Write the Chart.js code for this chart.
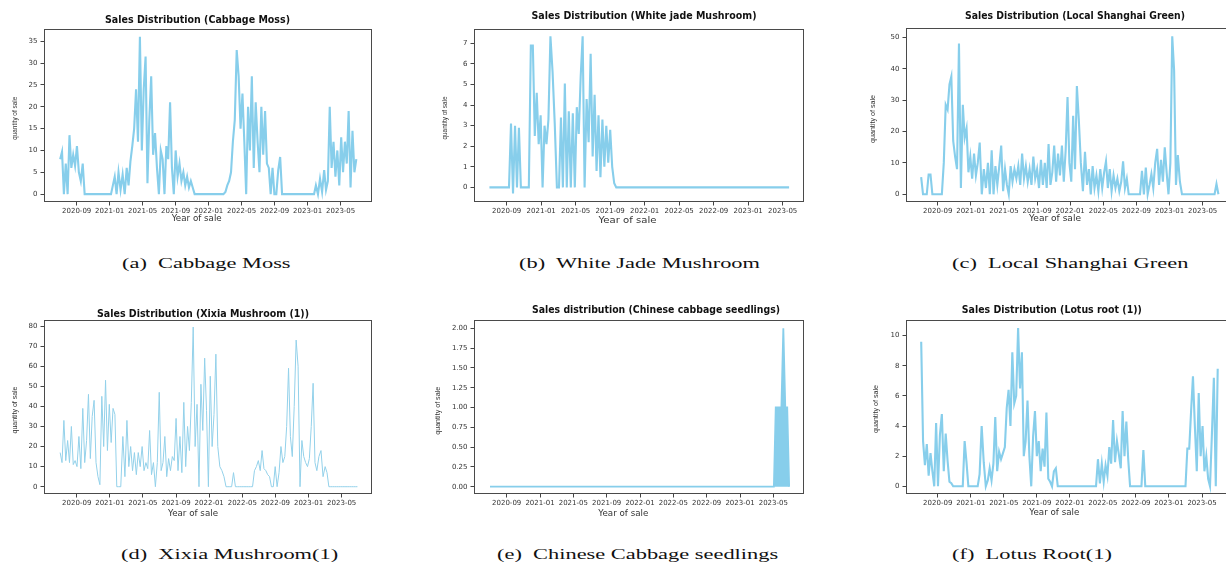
<!DOCTYPE html>
<html>
<head>
<meta charset="utf-8">
<script src="https://cdn.jsdelivr.net/npm/chart.js@4.4.1/dist/chart.umd.min.js"></script>
<style>
  html, body { margin:0; padding:0; background:#fff; }
  body { width:1226px; height:562px; overflow:hidden; position:relative; }
  .cap { position:absolute; font-family:"Liberation Serif","Times New Roman",serif; font-size:14px; line-height:14px;
         white-space:pre; color:#111; transform:scaleX(1.6); transform-origin:left top; }
</style>
</head>
<body>
<script>
// ---------------- DATA ----------------
// weekly samples starting 2020-07-01
const START_DATE = [2020, 6, 1];
const STEP_DAYS = 7;

const xTickValues = [8, 12, 16, 20, 24, 28, 32, 36, 40];   // months since 2020-01
const xTickLabels = ['2020-09','2021-01','2021-05','2021-09','2022-01','2022-05','2022-09','2023-01','2023-05'];

const titles = [
  'Sales Distribution (Cabbage Moss)',
  'Sales Distribution (White jade Mushroom)',
  'Sales Distribution (Local Shanghai Green)',
  'Sales Distribution (Xixia Mushroom (1))',
  'Sales distribution (Chinese cabbage seedlings)',
  'Sales Distribution (Lotus root (1))'
];
const captions = ['(a)  Cabbage Moss','(b)  White Jade Mushroom','(c)  Local Shanghai Green',
                  '(d)  Xixia Mushroom(1)','(e)  Chinese Cabbage seedlings','(f)  Lotus Root(1)'];
const xLabel = 'Year of sale';
const yLabel = 'quantity of sale';

const yTicksA = [0,5,10,15,20,25,30,35];
const yTicksB = [0,1,2,3,4,5,6,7];
const yTicksC = [0,10,20,30,40,50];
const yTicksD = [0,10,20,30,40,50,60,70,80];
const yTicksE = [0,0.25,0.5,0.75,1,1.25,1.5,1.75,2];
const yTicksF = [0,2,4,6,8,10];

const cabbageMoss = [
  8,9.7,0,7,0,13.5,6,9,6.5,11,5,3,7,
  0,0,0,0,0,0,0,0,0,0,0,0,0,0,0,
  2,4,0,5,1,4.5,0,6,2,7.5,11,15,24,12,36,10,24,31.5,2.5,17,27,9,14,6,0,10,8,0,11,8,21,6,0,10,4,7,3,5,2,4,1.5,3,1.5,
  0,0,0,0,0,0,0,0,0,0,0,0,0,0,0,0,
  0.5,2,3,5,12,17,33,27,15,23,12,0,20,10,27,6,21,12,5,20,9,19,7,6,0,6,0,0,5.5,8.5,
  0,0,0,0,0,0,0,0,0,0,0,0,0,0,0,0,0,0,
  2,0,3.5,0.5,5.5,1,3,20,6,12,4,10,2,13,5,12,7,19,1.5,14.5,5,8
];

const whiteJadeMushroom = [
  0,0,0,0,0,0,0,0,0,0,0,
  3.1,-0.3,3.0,0,2.9,0,0,0,0,0,6.9,6.9,2.5,4.6,2.1,3.5,0,3.0,2.1,3.3,7.35,5.6,3.1,0,0,3.4,0,5.05,0,3.7,
  0,3.6,0,3.9,2.6,5.4,7.35,0,4.3,2.2,6.5,1.5,4.5,0.8,3.5,0.5,3.3,1,3,1.2,2.8,1,0.2,
  0,0,0,0,0,0,0,0,0,0,0,0,0,0,0,0,0,0,0,0,0,0,0,0,0,0,0,0,0,0,0,0,0,0,0,0,0,0,0,0,0,0,0,0,
  0,0,0,0,0,0,0,0,0,0,0,0,0,0,0,0,0,0,0,0,0,0,0,0,0,0,0,0,0,0,0,0,0,0,0,0,0,0,0,0,0,0,0,0
];

const localShanghaiGreen = [
  5.5,0,0,0,6.3,6.3,0,0,0,0,0,0,
  10,28.5,27,35,37.5,17,12,8,48,2,28.5,18,21,7,12,5,13,6,10,16.5,0,8,2,10,0,14,0,9,3,9,
  15.5,1,8,3,0,9,4,8,5,9,3,13,5,9,4,8,3,12,5,8,2,11,3,10,2,16,3,7,15.5,4,
  13,6,15.5,4,14,31,10,4,25,8,34.5,24,10,1,13.5,3,8,0,9,2,6,1,8,2,7,10.5,2,8,1,6,2,5,1,4,10.5,2,5,0,
  0,0,0,0,0,0,
  7.5,0,8.5,0,3,6.5,2,10,14.5,3,11,4,15,7,0,10,50.3,39.5,3,12.5,4,
  0,0,0,0,0,0,0,0,0,0,0,0,0,0,0,0,0,0,
  3.3,0
];

const xixiaMushroom = [
  17,12,33,13,23,12,30,11,13,10,25,9,39,12,23,46,14,35,43,12,5,1,45,20,53,18,41,22,39,36,
  0,0,0,
  25,5,33,10,20,8,17,6,17,10,20,8,12,9,28,6,12,0,12,47,8,12,25,5,14,8,15,13,34,8,
  25,7,42,10,30,18,42,79.5,20,41,0,51,28,64,38,0,55,20,36,66,20,10,8,5,
  0,0,0,0,
  7,
  0,0,0,0,0,0,0,0,0,0,
  8,10,13,8,18,9,8,6,5,0,0,10,0,7,20,12,15,30,59,25,15,40,73,60,0,23,15,12,10,14,30,51.5,12,8,15,18,5,10,7,
  0,0,0,0,0,0,0,0,0,0,0,0,0,0,0,0
];

const cabbageSeedlings = [
  0,0,0,0,0,0,0,0,0,0,0,0,0,0,0,0,0,0,0,0,0,0,0,0,0,0,0,0,0,0,0,0,0,0,0,0,0,0,0,0,0,0,0,0,0,0,0,0,0,0,
  0,0,0,0,0,0,0,0,0,0,0,0,0,0,0,0,0,0,0,0,0,0,0,0,0,0,0,0,0,0,0,0,0,0,0,0,0,0,0,0,0,0,0,0,0,0,0,0,0,0,
  0,0,0,0,0,0,0,0,0,0,0,0,0,0,0,0,0,0,0,0,0,0,0,0,0,0,0,0,0,0,0,0,0,0,0,0,0,0,0,0,0,0,0,0,0,0,0,0,0,
  1,1,1,1,2,1,1,0
];

const lotusRoot = [
  9.6,3,1.4,2.8,0.7,2.2,1,0,4.2,0,3.4,4.8,1,3.5,1.7,0.3,0.2,
  0,0,0,0,0,0,
  3.0,1.6,
  0,0,0,0,0,0,
  0.8,4,1.6,0,0.4,1.2,0.4,1.5,4.6,1,2.3,1.8,2.2,2.6,5.2,6.4,4,8.9,5.5,6,10.5,6.5,8.9,2,3,5.7,2,0,3.3,5,2,3,1,2.5,1.3,4.9,0.5,0.3,0,1,1.2,
  0,0,0,0,0,0,0,0,0,0,0,0,0,0,0,0,0,0,0,0,0,
  1.8,0.2,1.5,0.3,1.4,0.7,2.6,1.5,4.4,1.6,3,2.1,1.2,5.0,2,4.3,1.8,
  0,0,0,0,0,0,0,
  2.4,
  0,0,0,0,0,0,0,0,0,0,0,0,0,0,0,0,0,0,0,0,0,0,
  2.5,2.5,5,7.3,4,1,6.2,2,4,1,2,0.5,0,3.5,7.2,0,7.8
];

// ---------------- HELPERS ----------------
function monthPos(i) {
  const t = Date.UTC(START_DATE[0], START_DATE[1], START_DATE[2]) + i * STEP_DAYS * 86400000;
  const d = new Date(t);
  const y = d.getUTCFullYear(), m = d.getUTCMonth(), day = d.getUTCDate();
  const dim = new Date(Date.UTC(y, m + 1, 0)).getUTCDate();
  return (y - 2020) * 12 + m + (day - 1) / dim;
}

function drawFit(ctx, text, font, x, y, w, color, rot) {
  ctx.save();
  ctx.font = font;
  const mw = ctx.measureText(text).width;
  ctx.translate(x, y);
  if (rot) ctx.rotate(-Math.PI / 2);
  ctx.scale(w / mw, 1);
  ctx.fillStyle = color;
  ctx.textAlign = 'center';
  ctx.textBaseline = 'middle';
  ctx.fillText(text, 0, 0);
  ctx.restore();
}

const decor = {
  id: 'decor',
  afterDraw(chart, args, o) {
    const { ctx, chartArea: a } = chart;
    ctx.save();
    ctx.strokeStyle = '#4a4a4a';
    ctx.lineWidth = 1;
    ctx.strokeRect(Math.round(a.left) + 0.5, Math.round(a.top) + 0.5,
                   Math.round(a.right - a.left) - 1, Math.round(a.bottom - a.top) - 1);
    ctx.restore();
    drawFit(ctx, o.title, 'bold 10px "DejaVu Sans"', o.t[0] - o.ox, o.t[1] - o.oy, o.t[2], '#111');
    drawFit(ctx, xLabel, '8px "DejaVu Sans"', o.xl[0] - o.ox, o.xl[1] - o.oy, o.xl[2], '#333');
    drawFit(ctx, yLabel, '7px "Liberation Sans"', o.yl[0] - o.ox, o.yl[1] - o.oy, o.yl[2], '#333', true);
  }
};

// ---------------- PANELS (styles / layout) ----------------
const panels = [
  { values: cabbageMoss, title: titles[0], box:[0,0,410,235], area:[44,29,372,202], xr:[4.04,43.8], yr:[-1.8,37.8], yt:yTicksA, dec:0,
    t:[197.5,20.7,185], xl:[196.7,219,50], yl:[15,118.3,43], lw:2.1, color:'#87ceeb' },
  { values: whiteJadeMushroom, title: titles[1], box:[410,0,406,235], area:[474,29,804,202], xr:[4.21,42.47], yr:[-0.71,7.7], yt:yTicksB, dec:0,
    t:[644,16.7,225], xl:[627.5,221,58], yl:[445,118,43], lw:2.1, color:'#87ceeb' },
  { values: localShanghaiGreen, title: titles[2], box:[816,0,430,235], area:[906,28,1232,202], xr:[4.17,43.54], yr:[-2.45,52.96], yt:yTicksC, dec:0,
    t:[1075,16.7,220], xl:[1055,219,52], yl:[872.7,119,48], lw:2.1, color:'#87ceeb' },
  { values: xixiaMushroom, title: titles[3], box:[0,290,410,240], area:[44,320,372,494], xr:[4.05,43.66], yr:[-3.63,83], yt:yTicksD, dec:0,
    t:[203,314,212], xl:[193,514,50], yl:[15,410,47], lw:1.0, color:'#93d1ea' },
  { values: cabbageSeedlings, title: titles[4], box:[410,290,406,240], area:[474,320,804,494], xr:[4.08,43.68], yr:[-0.092,2.105], yt:yTicksE, dec:2,
    t:[656,310,248], xl:[623.3,514,50], yl:[438.3,410.8,48], lw:1.8, color:'#87ceeb', fill:true },
  { values: lotusRoot, title: titles[5], box:[816,290,430,240], area:[906,320,1232,494], xr:[4.16,43.63], yr:[-0.51,11.04], yt:yTicksF, dec:0,
    t:[1051.8,310,180], xl:[1054.3,513.3,50], yl:[876,409,48], lw:2.1, color:'#87ceeb' }
];

const capPos = [[121.7,257],[519,257],[952,257],[120.5,548.3],[496.7,548.3],[952,548.3]];

captions.forEach((txt, k) => {
  const d = document.createElement('div');
  d.className = 'cap';
  d.textContent = txt;
  d.style.left = capPos[k][0] + 'px';
  d.style.top = capPos[k][1] + 'px';
  document.body.appendChild(d);
});

panels.forEach(p => {
  const [cx, cy, cw, ch] = p.box;
  const [L, T, R, B] = p.area;
  const canvas = document.createElement('canvas');
  canvas.width = cw; canvas.height = ch;
  canvas.style.position = 'absolute';
  canvas.style.left = cx + 'px';
  canvas.style.top = cy + 'px';
  document.body.appendChild(canvas);

  const pts = p.values.map((v, i) => ({ x: monthPos(i), y: v }));
  const tickFont = { family: 'DejaVu Sans', size: 7 };
  const gridCfg = { display: true, drawOnChartArea: false, drawTicks: true, tickLength: 3.5, color: '#444', lineWidth: 1 };

  new Chart(canvas, {
    type: 'line',
    data: { datasets: [{
      data: pts, borderColor: p.color, backgroundColor: p.color, borderWidth: p.lw,
      pointRadius: 0, tension: 0, fill: p.fill ? 'origin' : false, borderJoinStyle: 'miter'
    }]},
    options: {
      responsive: false, animation: false, events: [],
      layout: { padding: { left: 0, top: T - cy, right: (cx + cw) - R, bottom: 0 } },
      plugins: {
        legend: { display: false }, tooltip: { enabled: false },
        decor: { title: p.title, t: p.t, xl: p.xl, yl: p.yl, ox: cx, oy: cy }
      },
      scales: {
        x: {
          type: 'linear', min: p.xr[0], max: p.xr[1],
          afterBuildTicks: s => { s.ticks = xTickValues.map(v => ({ value: v })); },
          afterFit: s => { s.height = (cy + ch) - B; },
          grid: gridCfg, border: { display: false },
          ticks: { font: tickFont, color: '#333', padding: 1.5, maxRotation: 0, autoSkip: false,
                   callback: v => xTickLabels[xTickValues.indexOf(v)] }
        },
        y: {
          type: 'linear', min: p.yr[0], max: p.yr[1],
          afterBuildTicks: s => { s.ticks = p.yt.map(v => ({ value: v })); },
          afterFit: s => { s.width = L - cx; },
          grid: gridCfg, border: { display: false },
          ticks: { font: tickFont, color: '#333', padding: 3, autoSkip: false,
                   callback: v => Number(v).toFixed(p.dec) }
        }
      }
    },
    plugins: [decor]
  });
});
</script>
</body>
</html>
